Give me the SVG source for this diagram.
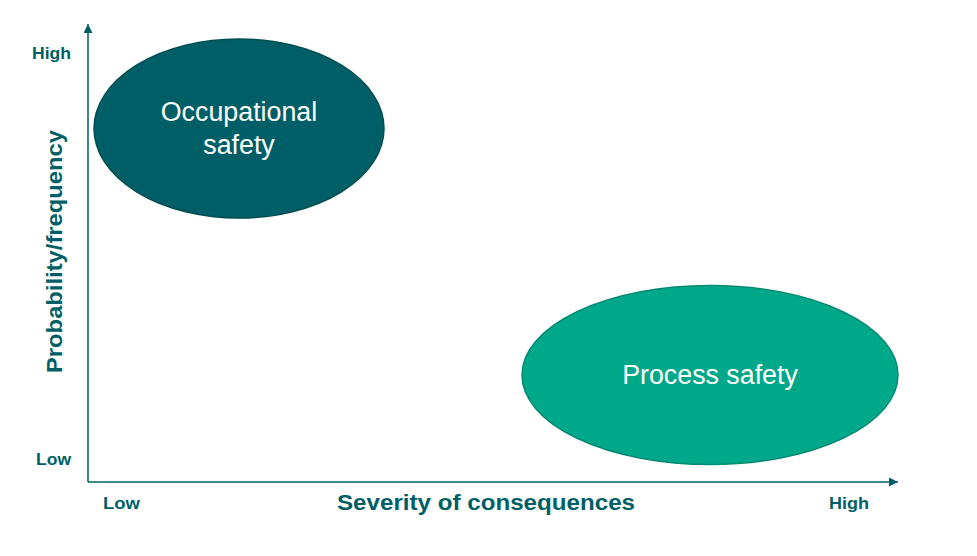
<svg xmlns="http://www.w3.org/2000/svg" width="977" height="556" viewBox="0 0 977 556">
<style>
.axis{stroke:#005F66;stroke-width:1.5;fill:none}
.lbl{font-family:"Liberation Sans",Arial,sans-serif;font-weight:bold;fill:#005F66}
.in{font-family:"Liberation Sans",Arial,sans-serif;fill:#FFFFFF;font-size:26.8px;text-anchor:middle}
</style>
<defs>
<marker id="ah" viewBox="0 0 10 10" refX="10" refY="5" markerWidth="10" markerHeight="9" markerUnits="userSpaceOnUse" orient="auto">
<path d="M0,0 L10,5 L0,10 Z" fill="#005F66"/>
</marker>
</defs>
<rect width="977" height="556" fill="#FFFFFF"/>
<g id="connectors">
<line class="axis" x1="88" y1="482" x2="88" y2="24" marker-end="url(#ah)"/>
<line class="axis" x1="88" y1="482" x2="898" y2="482" marker-end="url(#ah)"/>
</g>
<g id="axis-labels">
<text class="lbl" x="32" y="59" font-size="17" textLength="39" lengthAdjust="spacingAndGlyphs">High</text>
<text class="lbl" x="36" y="465" font-size="17" textLength="35" lengthAdjust="spacingAndGlyphs">Low</text>
<text class="lbl" x="103" y="509" font-size="17" textLength="37" lengthAdjust="spacingAndGlyphs">Low</text>
<text class="lbl" x="829" y="509" font-size="17" textLength="40" lengthAdjust="spacingAndGlyphs">High</text>
<text class="lbl" x="337" y="510" font-size="22" textLength="298" lengthAdjust="spacingAndGlyphs">Severity of consequences</text>
<text class="lbl" transform="translate(62,373) rotate(-90)" x="0" y="0" font-size="22" textLength="243" lengthAdjust="spacingAndGlyphs">Probability/frequency</text>
</g>
<g id="occupational-safety">
<ellipse cx="239" cy="128.5" rx="145" ry="89.5" fill="#005F66" stroke="#004D52" stroke-width="1.5"/>
<text class="in" x="239" y="121">Occupational</text>
<text class="in" x="239" y="154">safety</text>
</g>
<g id="process-safety">
<ellipse cx="710" cy="375" rx="188" ry="89.5" fill="#00A88A" stroke="#008A72" stroke-width="1.5"/>
<text class="in" x="710" y="384">Process safety</text>
</g>
</svg>
